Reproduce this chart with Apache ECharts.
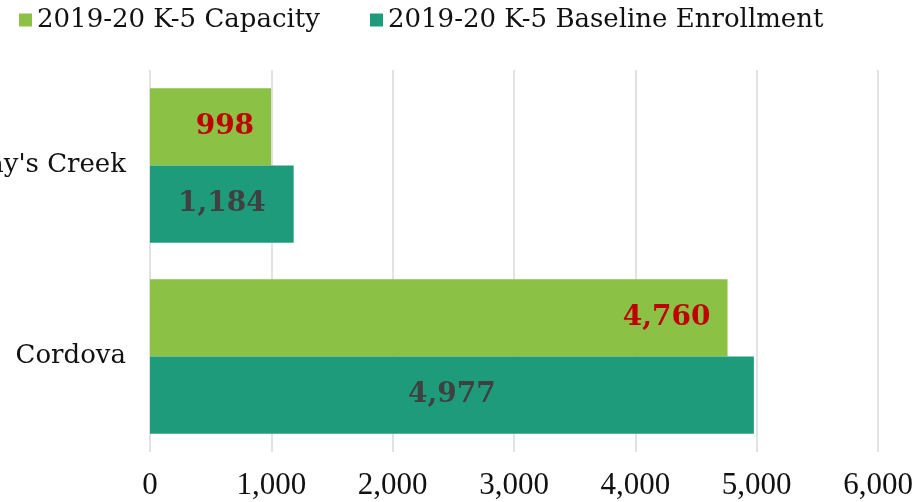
<!DOCTYPE html>
<html>
<head>
<meta charset="utf-8">
<script src="https://cdn.jsdelivr.net/npm/echarts@6/dist/echarts.min.js"></script>
<style>
  html, body { margin: 0; padding: 0; background: #fff; }
  #chart { width: 918px; height: 502px; }
</style>
</head>
<body>
<div id="chart"></div>
<script>
  // data
  const schools = ["Gray's Creek", 'Cordova']
  const capacity = [998, 4760]
  const enrollment = [1184, 4977]
  const xTicks = [0, 1000, 2000, 3000, 4000, 5000, 6000]

  const serif = 'DejaVu Serif'
  const fmt = v => v.toLocaleString('en-US')

  let chart = echarts.init(document.getElementById('chart'), null, { renderer: 'canvas' })

  const option = {
    animation: false,
    textStyle: { fontFamily: serif },
    legend: {
      left: 14,
      top: 2,
      itemWidth: 13,
      itemHeight: 13,
      itemGap: 50,
      icon: 'rect',
      textStyle: { fontFamily: serif, fontSize: 26, color: '#111' },
      data: ['2019-20 K-5 Capacity', '2019-20 K-5 Baseline Enrollment']
    },
    grid: {
      left: 150,
      right: 40,
      top: 70,
      bottom: 50,
      containLabel: false,
      outerBoundsMode: 'none'
    },
    xAxis: {
      type: 'value',
      min: xTicks[0],
      max: xTicks[xTicks.length - 1],
      interval: 1000,
      axisLine: { show: false },
      axisTick: { show: false },
      splitLine: { lineStyle: { color: '#d9d9d9', width: 1.5 } },
      axisLabel: {
        margin: 18,
        fontFamily: 'Liberation Serif',
        fontSize: 31,
        color: '#111',
        formatter: v => fmt(v)
      }
    },
    yAxis: {
      type: 'category',
      inverse: true,
      data: schools,
      axisLine: { show: false },
      axisTick: { show: false },
      axisLabel: {
        margin: 24,
        fontFamily: serif,
        fontSize: 26,
        color: '#111'
      }
    },
    series: [
      {
        name: '2019-20 K-5 Capacity',
        type: 'bar',
        barGap: '0%',
        barCategoryGap: '19%',
        itemStyle: { color: '#8bc145' },
        label: {
          show: true,
          position: 'insideRight',
          distance: 17,
          fontFamily: serif,
          fontSize: 28,
          fontWeight: 'bold',
          color: '#c00000',
          formatter: p => fmt(p.value)
        },
        data: capacity
      },
      {
        name: '2019-20 K-5 Baseline Enrollment',
        type: 'bar',
        barGap: '0%',
        barCategoryGap: '19%',
        itemStyle: { color: '#1e9b7a' },
        label: {
          show: true,
          position: 'inside',
          fontFamily: serif,
          fontSize: 28,
          fontWeight: 'bold',
          color: '#404040',
          formatter: p => fmt(p.value)
        },
        data: enrollment
      }
    ]
  }

  chart.setOption(option)
</script>
</body>
</html>
